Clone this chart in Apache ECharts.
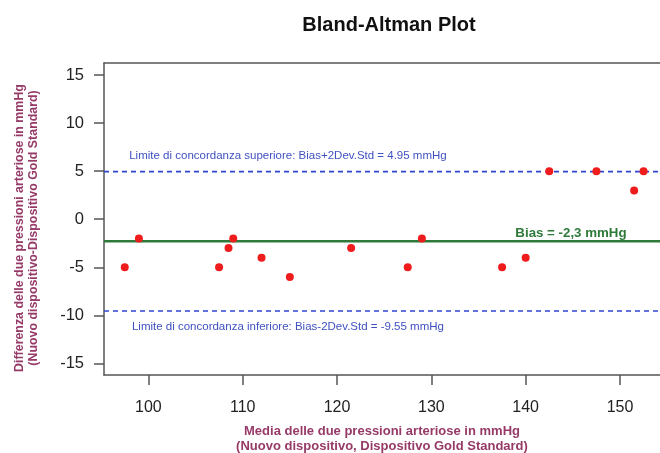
<!DOCTYPE html>
<html>
<head>
<meta charset="utf-8">
<script src="https://cdn.jsdelivr.net/npm/echarts@6/dist/echarts.min.js"></script>
<style>
  html, body {margin: 0; padding: 0; background: #fff;}
  #chart {width: 660px; height: 453px;}
</style>
</head>
<body>
<div id="chart"></div>
<script>
// media delle due misure (x) e differenza (y)
const mediaValues = [97.5, 99, 107.5, 108.5, 109, 112, 115, 121.5, 127.5, 129, 137.5, 140, 142.5, 147.5, 151.5, 152.5]
const diffValues = [-5, -2, -5, -3, -2, -4, -6, -3, -5, -2, -5, -4, 5, 5, 3, 5]
const xTicks = [100, 110, 120, 130, 140, 150]
const yTicks = [-15, -10, -5, 0, 5, 10, 15]
const bias = -2.3
const upperLimit = 4.95
const lowerLimit = -9.55

const xMin = 95.3, xMax = 154.24
const points = mediaValues.map((x, i) => [x, diffValues[i]])
const hLine = (y) => [[xMin, y], [xMax, y]]

const font = 'Liberation Sans, Arial, sans-serif'
const maroon = '#963a68'
const blue = '#3f51c0'
const green = '#2f7a3a'
const axisColor = '#555'

const limitLine = (y) => ({
    type: 'line', data: hLine(y), symbol: 'none', silent: true,
    lineStyle: {color: '#2f46d2', type: [5, 4], width: 1.6}, z: 2
})

const chart = echarts.init(document.getElementById('chart'))
chart.setOption({
    animation: false,
    title: {
        text: 'Bland-Altman Plot',
        left: 384, top: 10, textAlign: 'center',
        textStyle: {fontFamily: font, fontSize: 20, fontWeight: 'bold', color: '#111'}
    },
    grid: {
        left: 104, top: 63, right: 0, bottom: 78,
        outerBoundsMode: 'none', containLabel: false,
        show: false
    },
    xAxis: [{
        type: 'value', min: xMin, max: xMax,
        axisLine: {show: true, onZero: false, lineStyle: {color: axisColor, width: 1.5}},
        splitLine: {show: false},
        axisTick: {show: true, inside: false, length: 10, customValues: xTicks, lineStyle: {color: axisColor, width: 1.5}},
        axisLabel: {customValues: xTicks, margin: 25, fontFamily: font, fontSize: 16, color: '#222'},
        name: 'Media delle due pressioni arteriose in mmHg\n(Nuovo dispositivo, Dispositivo Gold Standard)',
        nameLocation: 'middle', nameGap: 49,
        nameTextStyle: {fontFamily: font, fontSize: 13, fontWeight: 'bold', color: maroon, lineHeight: 15}
    }, {
        // solo il bordo superiore del riquadro
        type: 'value', position: 'top', min: xMin, max: xMax,
        axisLine: {show: true, onZero: false, lineStyle: {color: axisColor, width: 1.5}},
        axisTick: {show: false}, axisLabel: {show: false}, splitLine: {show: false}
    }],
    yAxis: {
        type: 'value', min: -16.2, max: 16.25,
        axisLine: {show: true, onZero: false, lineStyle: {color: axisColor, width: 1.5}},
        splitLine: {show: false},
        axisTick: {show: true, inside: false, length: 10, customValues: yTicks, lineStyle: {color: axisColor, width: 1.5}},
        axisLabel: {customValues: yTicks, margin: 20, fontFamily: font, fontSize: 16.5, color: '#222'},
        name: 'Differenza delle due pressioni arteriose in mmHg\n(Nuovo dispositivo-Dispositivo Gold Standard)',
        nameLocation: 'middle', nameGap: 63, nameRotate: 90,
        nameTextStyle: {fontFamily: font, fontSize: 12.4, fontWeight: 'bold', color: maroon, lineHeight: 14, padding: [0, 18, 0, 0]}
    },
    series: [
        limitLine(upperLimit),
        limitLine(lowerLimit),
        {
            type: 'line', data: hLine(bias), symbol: 'none', silent: true,
            lineStyle: {color: green, width: 2.5}, z: 3
        },
        {
            type: 'scatter',
            data: points,
            symbolSize: 8,
            itemStyle: {color: '#ee1c1c', opacity: 1},
            z: 5,
            markPoint: {
                silent: true,
                symbol: 'circle', symbolSize: 0,
                label: {show: true, position: 'inside', fontFamily: font},
                data: [
                    {coord: [114.8, 6.6], label: {formatter: 'Limite di concordanza superiore: Bias+2Dev.Std = 4.95 mmHg', fontSize: 11.5, color: blue}},
                    {coord: [114.8, -11.2], label: {formatter: 'Limite di concordanza inferiore: Bias-2Dev.Std = -9.55 mmHg', fontSize: 11.5, color: blue}},
                    {coord: [144.8, -1.43], label: {formatter: 'Bias = -2,3 mmHg', fontSize: 13.3, fontWeight: 'bold', color: green}}
                ]
            }
        }
    ]
})
</script>
</body>
</html>
